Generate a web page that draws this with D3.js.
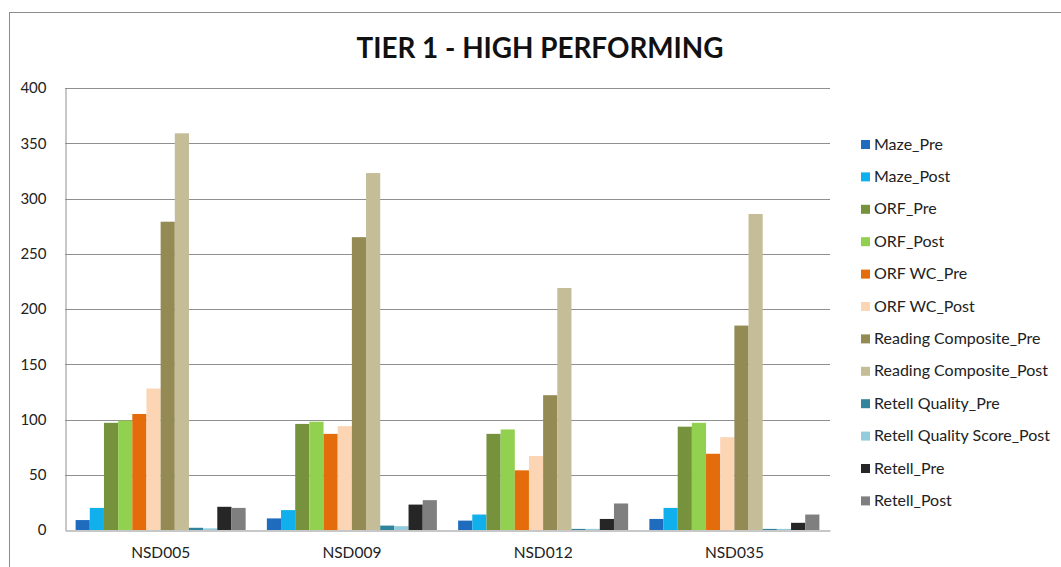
<!DOCTYPE html>
<html>
<head>
<meta charset="utf-8">
<script src="https://cdn.jsdelivr.net/npm/d3@7"></script>
<style>
  html, body { margin: 0; padding: 0; background: #fff; }
  svg { display: block; }
  text { font-family: Lato, "Open Sans", sans-serif; }
</style>
</head>
<body>
<svg id="chart" width="1061" height="567"></svg>
<script>
// School groups along the x axis
const schools = ["NSD005", "NSD009", "NSD012", "NSD035"];

// Measures shown for each school (legend order)
const measures = [
  "Maze_Pre", "Maze_Post", "ORF_Pre", "ORF_Post", "ORF WC_Pre", "ORF WC_Post",
  "Reading Composite_Pre", "Reading Composite_Post", "Retell Quality_Pre",
  "Retell Quality Score_Post", "Retell_Pre", "Retell_Post"
];

// One value per measure, per school
const nsd005 = [9, 20, 97, 99, 105, 128, 279, 359, 2, 1.5, 21, 20];
const nsd009 = [10.5, 18, 96, 98, 87, 94, 265, 323, 4, 3.5, 23, 27];
const nsd012 = [8.5, 14, 87, 91, 54, 67, 122, 219, 1, 1, 10, 24];
const nsd035 = [10, 20, 93.5, 97, 69, 84, 185, 286, 1, 1, 6.5, 14];
const valuesBySchool = [nsd005, nsd009, nsd012, nsd035];

const yTicks = [0, 50, 100, 150, 200, 250, 300, 350, 400];

const colors = [
  "#1f6cbf", "#0fb0ec", "#76923c", "#92d050", "#e46c0a", "#fcd5b5",
  "#948a54", "#c4bd97", "#31849b", "#93cddd", "#262626", "#7f7f7f"
];

const svg = d3.select("#chart");

// Outer frame
svg.append("rect")
  .attr("x", 9.5).attr("y", 12.5)
  .attr("width", 1100).attr("height", 600)
  .attr("fill", "none").attr("stroke", "#8c8c8c").attr("stroke-width", 1);

// Title
svg.append("text")
  .attr("x", 540).attr("y", 58)
  .attr("text-anchor", "middle")
  .attr("font-size", 29).attr("font-weight", 700)
  .attr("textLength", 367).attr("lengthAdjust", "spacingAndGlyphs")
  .attr("fill", "#111")
  .text("TIER 1 - HIGH PERFORMING");

const plot = { left: 65, right: 830, top: 88, bottom: 530 };

const x0 = d3.scaleBand()
  .domain(schools)
  .range([plot.left, plot.right])
  .paddingInner(0.111)
  .paddingOuter(0.0555);

const x1 = d3.scaleBand()
  .domain(measures)
  .range([0, x0.bandwidth()])
  .padding(0);

const y = d3.scaleLinear()
  .domain([0, 400])
  .range([plot.bottom, plot.top]);

const color = d3.scaleOrdinal().domain(measures).range(colors);

// Horizontal gridlines
svg.append("g")
  .selectAll("line")
  .data(yTicks.filter(t => t > 0))
  .join("line")
  .attr("x1", plot.left).attr("x2", plot.right)
  .attr("y1", d => Math.round(y(d)) + 0.5)
  .attr("y2", d => Math.round(y(d)) + 0.5)
  .attr("stroke", "#8f8f8f").attr("stroke-width", 1);

// Y axis
const yAxis = svg.append("g")
  .attr("transform", `translate(${plot.left + 0.5},0)`)
  .call(d3.axisLeft(y).tickValues(yTicks).tickSize(0).tickPadding(19));
yAxis.select(".domain").attr("stroke", "#8f8f8f");
yAxis.selectAll("text")
  .attr("font-family", "Lato, sans-serif")
  .attr("font-size", 15).attr("fill", "#222");

// Bars
const groups = svg.append("g")
  .selectAll("g")
  .data(schools.map((s, i) => ({ school: s, values: valuesBySchool[i] })))
  .join("g")
  .attr("transform", d => `translate(${x0(d.school)},0)`);

groups.selectAll("rect")
  .data(d => d.values.map((v, j) => ({ measure: measures[j], value: v })))
  .join("rect")
  .attr("x", d => x1(d.measure))
  .attr("width", x1.bandwidth())
  .attr("y", d => y(d.value))
  .attr("height", d => y(0) - y(d.value))
  .attr("fill", d => color(d.measure));

// X axis
const xAxis = svg.append("g")
  .attr("transform", `translate(0,${plot.bottom + 0.5})`)
  .call(d3.axisBottom(x0).tickSize(0).tickPadding(16));
xAxis.select(".domain").attr("stroke", "#8f8f8f");
xAxis.selectAll("text")
  .attr("font-family", "Lato, sans-serif")
  .attr("font-size", 15.5).attr("fill", "#222");

// Legend
const legend = svg.append("g")
  .selectAll("g")
  .data(measures)
  .join("g")
  .attr("transform", (d, i) => `translate(861,${144 + i * 32.4})`);

legend.append("rect")
  .attr("x", 0).attr("y", -4)
  .attr("width", 9).attr("height", 9)
  .attr("fill", d => color(d));

legend.append("text")
  .attr("x", 13).attr("y", 5.5)
  .attr("font-size", 16).attr("fill", "#222")
  .text(d => d);
</script>
</body>
</html>
